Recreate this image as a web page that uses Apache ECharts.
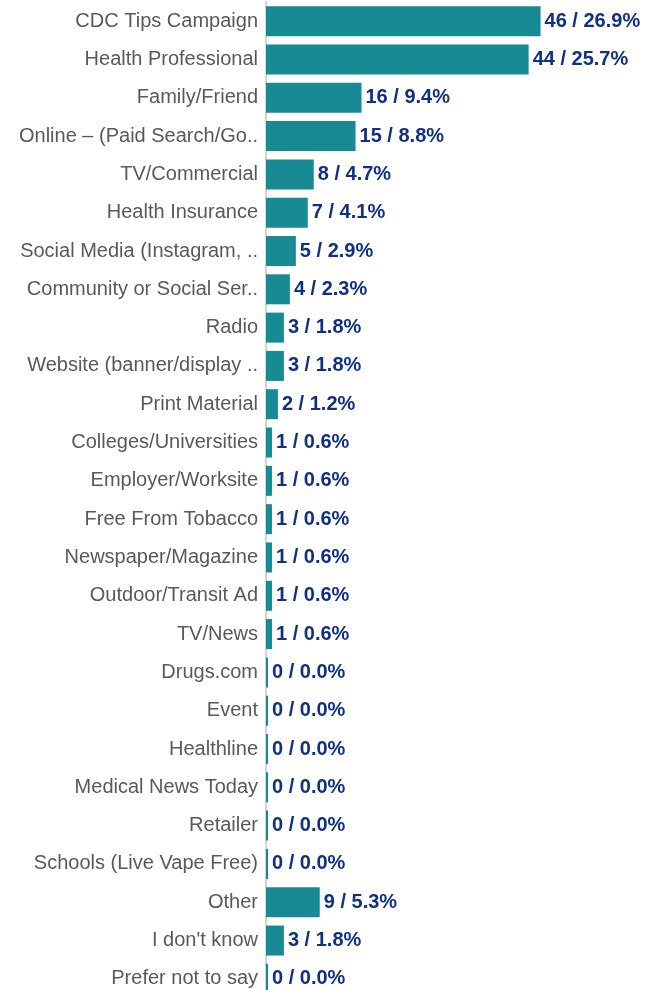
<!DOCTYPE html>
<html>
<head>
<meta charset="utf-8">
<script src="https://cdn.jsdelivr.net/npm/echarts@6/dist/echarts.min.js"></script>
<style>
  html, body { margin: 0; padding: 0; background: #fff; }
  #chart { width: 648px; height: 990px; }
</style>
</head>
<body>
<div id="chart"></div>
<script>
// data
var categories = [
  'CDC Tips Campaign', 'Health Professional', 'Family/Friend', 'Online – (Paid Search/Go..',
  'TV/Commercial', 'Health Insurance', 'Social Media (Instagram, ..', 'Community or Social Ser..',
  'Radio', 'Website (banner/display ..', 'Print Material', 'Colleges/Universities',
  'Employer/Worksite', 'Free From Tobacco', 'Newspaper/Magazine', 'Outdoor/Transit Ad',
  'TV/News', 'Drugs.com', 'Event', 'Healthline', 'Medical News Today', 'Retailer',
  'Schools (Live Vape Free)', 'Other', "I don't know", 'Prefer not to say'
]
var counts = [46, 44, 16, 15, 8, 7, 5, 4, 3, 3, 2, 1, 1, 1, 1, 1, 1, 0, 0, 0, 0, 0, 0, 9, 3, 0]
var percents = ['26.9', '25.7', '9.4', '8.8', '4.7', '4.1', '2.9', '2.3', '1.8', '1.8', '1.2',
  '0.6', '0.6', '0.6', '0.6', '0.6', '0.6', '0.0', '0.0', '0.0', '0.0', '0.0', '0.0',
  '5.3', '1.8', '0.0']

var chart = echarts.init(document.getElementById('chart'))
var option = {
  animation: false,
  grid: { left: 266, right: 0, top: 2, bottom: -8, containLabel: false, outerBoundsMode: 'none' },
  xAxis: {
    type: 'value', min: 0, max: 64, show: false
  },
  yAxis: {
    type: 'category',
    inverse: true,
    data: categories,
    axisLine: { show: true, lineStyle: { color: '#d4d4d4', width: 2 } },
    axisTick: { show: false },
    axisLabel: {
      color: '#595959',
      fontSize: 20,
      fontFamily: 'Liberation Sans, Arial, sans-serif',
      margin: 8
    }
  },
  series: [{
    type: 'bar',
    data: counts,
    barWidth: 30,
    barMinHeight: 2,
    itemStyle: { color: '#178a94' },
    label: {
      show: true,
      position: 'right',
      distance: 4,
      color: '#11307f',
      fontSize: 20,
      fontWeight: 'bold',
      fontFamily: 'Liberation Sans Narrow, Liberation Sans, Arial, sans-serif',
      formatter: function (p) { return counts[p.dataIndex] + ' / ' + percents[p.dataIndex] + '%' }
    }
  }]
}
chart.setOption(option)
</script>
</body>
</html>
